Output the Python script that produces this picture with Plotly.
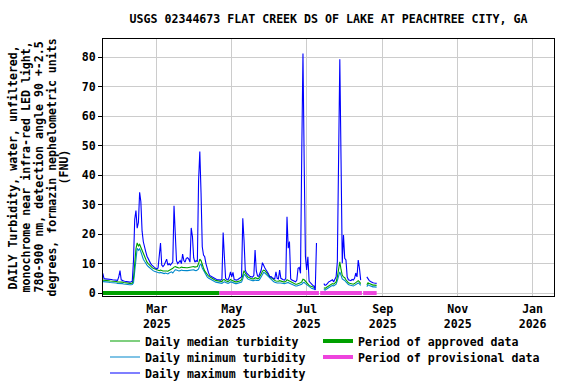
import pandas as pd
import plotly.graph_objects as go

TITLE = "USGS 02344673 FLAT CREEK DS OF LAKE AT PEACHTREE CITY, GA"
Y_TITLE_LINES = [
    "DAILY Turbidity, water, unfiltered,",
    "monochrome near infra-red LED light,",
    "780-900 nm, detection angle 90 +-2.5",
    "degrees, formazin nephelometric units",
    "(FNU)",
]
START_DATE = "2025-01-16"

# Daily values, FNU (None = no data)
median_vals = [
    4.4, 4.4, 4.3, 4.3, 4.2, 4.2, 4.1, 4.1, 4.0, 4.0, 3.9, 3.9, 3.8, 3.8, 3.9, 3.8, 3.7, 3.6, 3.5, 3.4, 3.4, 3.3, 3.3, 3.3, 3.4,
    5.0, 12.0, 15.0, 17.0, 16.0, 16.5, 15.5, 14.0, 13.0, 12.0, 11.0, 10.5, 10.0, 9.5, 9.0, 8.7, 8.4, 8.2, 8.0, 7.8,
    7.8, 7.6, 7.8, 7.6, 7.5, 7.5, 7.6, 7.5, 7.4, 7.6,
    7.8, 8.2, 8.4, 8.8, 9.0, 8.8, 8.6, 8.5, 8.6, 8.8,
    8.7, 8.6, 8.5, 8.6, 8.6, 8.7, 8.7, 8.8, 9.0, 9.0,
    8.8, 8.8, 9.0, 10.0, 11.5, 11.0, 9.5, 8.5, 7.5, 6.8,
    6.2, 5.8, 5.5, 5.2, 5.0, 4.8, 4.5, 4.3, 4.2, 4.0,
    3.9, 3.8, 3.9, 4.5, 4.6, 4.2, 4.0, 3.9, 4.2, 4.6,
    4.3, 4.1, 3.9, 3.8, 3.8, 3.9, 4.0, 4.2, 4.5, 6.5,
    7.6, 6.8, 6.0, 5.5, 5.3, 5.0, 4.9, 4.8, 4.8, 5.2,
    5.0, 4.9, 5.0, 5.6, 6.5, 7.4, 7.8, 7.6, 7.2, 6.6,
    6.1, 5.6, 5.2, 4.8, 4.5, 4.3, 4.1, 4.0, 4.0, 4.2,
    4.0, 3.9, 3.8, 3.8, 3.9, 4.5, 4.3, 3.9, 3.7, 3.5,
    3.3, 3.2, 3.0, 3.0, 3.1, 3.4, 3.5, 3.8, 4.7, 4.5,
    4.0, 3.6, 3.0, 2.6, 2.4, 2.2, 2.1, 2.0, 1.8, None,
    None, None, None, None, None,
    1.8, 1.6, 1.9, 2.2, 2.5, 2.8, 3.0, 3.2, 3.0, 3.3,
    3.8, 5.5, 7.8, 10.6, 8.0, 6.0, 5.5, 5.2, 4.5, 3.8,
    3.5, 3.3, 3.2, 3.0, 3.0, 3.2, 3.6, 3.8, 4.2, 3.8, 3.2,
    None, None, None, None,
    2.8, 3.5, 3.2, 3.0, 2.8, 2.7, 2.7, 2.6, 2.6,
]

minimum_vals = [
    3.9, 3.9, 3.8, 3.8, 3.7, 3.7, 3.6, 3.6, 3.5, 3.5, 3.4, 3.4, 3.3, 3.3, 3.4, 3.3, 3.2, 3.1, 3.0, 2.9, 2.9, 2.8, 2.8, 2.8, 2.9,
    3.5, 8.0, 13.0, 15.2, 14.5, 15.0, 14.0, 12.5, 11.5, 10.8, 10.0, 9.5, 9.0, 8.6, 8.2, 7.9, 7.6, 7.4, 7.2, 7.0,
    7.0, 6.8, 7.0, 6.8, 6.7, 6.6, 6.8, 6.7, 6.5, 6.8,
    7.0, 7.2, 6.8, 7.5, 7.9, 7.8, 7.6, 7.5, 7.6, 7.8,
    7.7, 7.6, 7.5, 7.6, 7.6, 7.7, 7.7, 7.8, 7.8, 7.9,
    7.7, 7.6, 7.8, 8.2, 9.5, 9.8, 8.5, 7.6, 6.7, 6.0,
    5.5, 5.1, 4.8, 4.5, 4.3, 4.1, 3.9, 3.7, 3.6, 3.4,
    3.3, 3.2, 3.3, 3.6, 3.8, 3.6, 3.4, 3.3, 3.5, 3.8,
    3.7, 3.5, 3.3, 3.2, 3.2, 3.3, 3.4, 3.5, 3.7, 4.8,
    6.4, 6.0, 5.3, 4.8, 4.6, 4.4, 4.3, 4.2, 4.2, 4.4,
    4.3, 4.2, 4.3, 4.8, 5.6, 6.5, 7.0, 6.8, 6.4, 5.9,
    5.4, 4.9, 4.5, 4.2, 3.9, 3.7, 3.5, 3.4, 3.4, 3.5,
    3.4, 3.3, 3.2, 3.2, 3.3, 3.6, 3.6, 3.3, 3.1, 2.9,
    2.7, 2.6, 2.4, 2.4, 2.5, 2.7, 2.8, 3.0, 3.5, 3.6,
    3.2, 2.9, 2.4, 2.0, 1.8, 1.6, 1.5, 1.4, 1.2, None,
    None, None, None, None, None,
    1.2, 1.0, 1.3, 1.6, 1.9, 2.2, 2.4, 2.6, 2.4, 2.7,
    3.0, 4.2, 5.8, 7.2, 6.0, 4.8, 4.5, 4.3, 3.8, 3.2,
    2.9, 2.7, 2.6, 2.4, 2.4, 2.6, 2.9, 3.1, 3.4, 3.1, 2.6,
    None, None, None, None,
    2.2, 2.8, 2.6, 2.4, 2.2, 2.1, 2.1, 2.0, 2.0,
]

maximum_vals = [
    6.7, 4.9, 4.8, 4.8, 4.7, 4.7, 4.6, 4.6, 4.5, 4.5, 4.4, 4.4, 4.3, 5.5, 7.6, 4.5, 4.2, 4.1, 4.0, 3.9, 3.8, 3.8, 3.7, 3.8, 4.0,
    11.0, 25.0, 28.0, 22.0, 24.0, 34.2, 31.0, 21.0, 17.4, 15.0, 14.0, 12.5, 11.5, 10.6, 10.0, 9.5, 9.0, 8.7, 8.4, 8.2,
    8.5, 12.4, 17.0, 9.5, 9.0, 9.5, 10.5, 11.5, 9.5, 10.0,
    9.5, 10.0, 10.5, 29.6, 19.5, 11.0, 10.0, 10.5, 11.0, 10.0,
    13.2, 11.0, 10.5, 11.8, 12.0, 11.5, 10.5, 22.1, 19.2, 12.0,
    10.5, 11.0, 10.6, 38.1, 48.0, 34.0, 15.7, 12.9, 12.3, 10.0,
    8.0, 7.0, 6.0, 5.7, 5.5, 5.2, 5.0, 4.8, 4.6, 4.5,
    4.5, 4.4, 4.6, 20.5, 12.4, 5.0, 4.6, 4.5, 5.5, 7.2,
    5.5, 7.0, 4.6, 4.4, 4.4, 4.6, 4.8, 5.2, 5.5, 25.4,
    18.0, 7.8, 6.8, 6.2, 6.0, 5.6, 5.5, 5.4, 6.0, 14.6,
    7.5, 5.8, 5.7, 6.5, 7.8, 10.3, 9.0, 8.5, 7.8, 7.2,
    6.5, 5.5, 5.6, 5.2, 5.0, 4.8, 7.2, 5.0, 4.8, 7.8,
    5.0, 4.6, 4.5, 4.4, 5.0, 25.9, 15.2, 17.5, 4.8, 4.4,
    4.2, 4.0, 3.8, 4.4, 8.4, 8.7, 6.7, 47.3, 81.3, 44.1,
    12.4, 7.8, 12.3, 4.0, 3.5, 3.0, 2.6, 2.4, 1.0, 17.0,
    None, None, None, None, None,
    3.2, 2.6, 2.8, 3.4, 3.8, 4.0, 4.2, 4.5, 3.8, 4.5,
    5.5, 10.7, 46.2, 79.3, 45.2, 10.1, 19.7, 11.8, 11.2, 5.5,
    4.5, 4.4, 4.2, 4.6, 4.4, 5.0, 6.8, 5.5, 11.2, 8.4, 4.4,
    None, None, None, None,
    5.5, 4.8, 4.2, 3.9, 3.6, 3.5, 3.4, 3.3, 3.3,
]

approved_periods = [("2025-01-16", "2025-04-21")]
provisional_periods = [("2025-04-21", "2025-07-11"), ("2025-07-12", "2025-08-15"), ("2025-08-16", "2025-08-27")]

assert len(median_vals) == len(minimum_vals) == len(maximum_vals)
dates = pd.date_range(START_DATE, periods=len(median_vals), freq="D")

FONT = "DejaVu Sans Mono"
FS = 11.6
W, H = 576, 384
L, R, T, B = 103, 22, 39, 88
PW, PH = W - L - R, H - T - B


def px_x(px):
    return (px - L) / PW


def px_y(py):
    return (H - B - py) / PH


def period_xy(periods):
    xs, ys = [], []
    for s, e in periods:
        xs += [s, e, None]
        ys += [0, 0, None]
    return xs, ys


fig = go.Figure()
fig.add_trace(go.Scatter(x=dates, y=minimum_vals, mode="lines", name="Daily minimum turbidity",
                         line=dict(color="#0088cc", width=1.1), connectgaps=False, legend="legend2"))
fig.add_trace(go.Scatter(x=dates, y=median_vals, mode="lines", name="Daily median turbidity",
                         line=dict(color="#00a000", width=1.1), connectgaps=False, legend="legend"))
fig.add_trace(go.Scatter(x=dates, y=maximum_vals, mode="lines", name="Daily maximum turbidity",
                         line=dict(color="#0000ff", width=1.1), connectgaps=False, legend="legend3"))
ax, ay = period_xy(approved_periods)
fig.add_trace(go.Scatter(x=ax, y=ay, mode="lines", name="Period of approved data",
                         line=dict(color="#00a000", width=4), legend="legend4"))
px_, py_ = period_xy(provisional_periods)
fig.add_trace(go.Scatter(x=px_, y=py_, mode="lines", name="Period of provisional data",
                         line=dict(color="#ee44dd", width=4), legend="legend5"))

lfont = dict(family=FONT, size=FS, color="black", weight="bold")
col1_x = px_x(105)
col2_x = px_x(318)
rows = [px_y(341), px_y(357), px_y(373)]


def leg(x, y):
    return dict(x=x, y=y, xanchor="left", yanchor="middle", font=lfont,
                bgcolor="rgba(0,0,0,0)", borderwidth=0)


annotations = []
for i, (line, xc) in enumerate(zip(Y_TITLE_LINES, [12, 25, 38, 51, 63])):
    annotations.append(dict(text=line, x=px_x(xc), y=0.5, xref="paper", yref="paper",
                            xanchor="center", yanchor="middle", textangle=-90, showarrow=False,
                            font=dict(family=FONT, size=FS, color="black", weight="bold")))

tickvals = ["2025-03-01", "2025-05-01", "2025-07-01", "2025-09-01", "2025-11-01", "2026-01-01"]
ticktext = ["Mar<br>2025", "May<br>2025", "Jul<br>2025", "Sep<br>2025", "Nov<br>2025", "Jan<br>2026"]

fig.update_layout(
    width=W, height=H,
    margin=dict(l=L, r=R, t=T, b=B, pad=0, autoexpand=False),
    paper_bgcolor="white", plot_bgcolor="white",
    font=dict(family=FONT, size=FS, color="black", weight="bold"),
    title=dict(text=TITLE, x=px_x(328.5), xref="paper", xanchor="center",
               y=1 - 19 / H, yanchor="middle",
               font=dict(family=FONT, size=FS, color="black", weight="bold")),
    showlegend=True,
    legend=leg(col1_x, rows[0]),
    legend2=leg(col1_x, rows[1]),
    legend3=leg(col1_x, rows[2]),
    legend4=leg(col2_x, rows[0]),
    legend5=leg(col2_x, rows[1]),
    annotations=annotations,
    xaxis=dict(type="date", range=["2025-01-16 04:00", "2026-01-18 10:00"],
               tickvals=tickvals, ticktext=ticktext, showgrid=True, gridcolor="#cccccc", gridwidth=1,
               showline=True, linecolor="black", linewidth=1, mirror=True, ticks="",
               ticklabelstandoff=2, zeroline=False,
               tickfont=dict(family=FONT, size=FS, color="black", weight="bold")),
    yaxis=dict(range=[-1.0, 86.2], tickvals=list(range(0, 90, 10)), showgrid=True,
               gridcolor="#cccccc", gridwidth=1, showline=True, linecolor="black", linewidth=1,
               mirror=True, ticks="outside", ticklen=4, tickcolor="black", zeroline=False,
               tickfont=dict(family=FONT, size=FS, color="black", weight="bold")),
)

fig.write_html("out.html")
